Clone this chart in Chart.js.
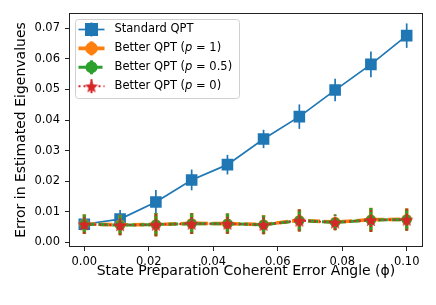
<!DOCTYPE html>
<html>
<head>
<meta charset="utf-8">
<script src="https://cdn.jsdelivr.net/npm/chart.js@4.4.1/dist/chart.umd.min.js"></script>
<style>
  html, body { margin: 0; padding: 0; background: #fff; }
  canvas { display: block; }
</style>
</head>
<body>
<canvas id="c" width="436" height="305"></canvas>
<script>
// données
const angles = [0, 0.0111, 0.0222, 0.0333, 0.0444, 0.0556, 0.0667, 0.0778, 0.0889, 0.1];
const standard = [0.0059, 0.0076, 0.0132, 0.0204, 0.0254, 0.0338, 0.0411, 0.0498, 0.0582, 0.0676];
const standardErr = [0.003, 0.003, 0.0039, 0.0034, 0.0032, 0.003, 0.004, 0.0037, 0.0042, 0.004];
const betterP1 = [0.0060, 0.0057, 0.0058, 0.0062, 0.0061, 0.0058, 0.0072, 0.0066, 0.0074, 0.0075];
const betterP05 = [0.0059, 0.0056, 0.0058, 0.0061, 0.0061, 0.0057, 0.0071, 0.0065, 0.0073, 0.0074];
const betterP0 = [0.0059, 0.0056, 0.0058, 0.0061, 0.0061, 0.0057, 0.0071, 0.0065, 0.0073, 0.0074];
const betterErr = [0.0032, 0.0033, 0.0038, 0.0034, 0.0033, 0.0031, 0.0036, 0.0026, 0.0039, 0.0036];
const xTicks = [0, 0.02, 0.04, 0.06, 0.08, 0.10];
const yTicks = [0, 0.01, 0.02, 0.03, 0.04, 0.05, 0.06, 0.07];

const FONT = "'DejaVu Sans', sans-serif";
const TICK_SIZE = 11.5;
const TITLE_SIZE = 14;

// étoile pleine façon matplotlib '*'
function makeStar(color, r) {
  const size = Math.ceil(r * 2 + 2);
  const cv = document.createElement('canvas');
  cv.width = size; cv.height = size;
  const c = cv.getContext('2d');
  c.fillStyle = color;
  c.beginPath();
  for (let i = 0; i < 10; i++) {
    const rad = i % 2 === 0 ? r : r * 0.45;
    const a = -Math.PI / 2 + i * Math.PI / 5;
    const px = size / 2 + rad * Math.cos(a), py = size / 2 + rad * Math.sin(a) + r * 0.1;
    if (i === 0) c.moveTo(px, py); else c.lineTo(px, py);
  }
  c.closePath();
  c.fill();
  return cv;
}
const redStar = makeStar('#d62728', 7);

function pts(ys) {
  return angles.map((a, i) => ({ x: a, y: ys[i] }));
}

// barres d'erreur dessinées avant chaque série
const errorBars = {
  id: 'errorBars',
  beforeDatasetDraw(chart, args) {
    const ds = chart.data.datasets[args.index];
    if (!ds.errors) return;
    const { ctx, chartArea, scales: { x, y } } = chart;
    ctx.save();
    ctx.beginPath();
    ctx.rect(chartArea.left, chartArea.top, chartArea.width, chartArea.height);
    ctx.clip();
    ctx.strokeStyle = ds.borderColor;
    ctx.lineWidth = ds.errWidth;
    ctx.setLineDash(ds.borderDash || []);
    ds.data.forEach((p, i) => {
      const px = x.getPixelForValue(p.x);
      ctx.beginPath();
      ctx.moveTo(px, y.getPixelForValue(p.y - ds.errors[i]));
      ctx.lineTo(px, y.getPixelForValue(p.y + ds.errors[i]));
      ctx.stroke();
    });
    ctx.restore();
  }
};

// cadre + légende façon matplotlib
const frameAndLegend = {
  id: 'frameAndLegend',
  afterDraw(chart) {
    const { ctx, chartArea: a } = chart;
    ctx.save();
    ctx.strokeStyle = '#222';
    ctx.lineWidth = 1;
    ctx.strokeRect(a.left + 0.5, a.top + 0.5, a.right - a.left - 1, a.bottom - a.top - 1);

    const bx = a.left + 6.5, by = a.top + 6.5, bw = 164, bh = 79;
    ctx.fillStyle = 'rgba(255,255,255,0.8)';
    ctx.strokeStyle = '#d0d0d0';
    ctx.beginPath();
    ctx.roundRect(bx, by, bw, bh, 3);
    ctx.fill();
    ctx.stroke();

    chart.data.datasets.forEach((ds, i) => {
      const ry = by + 10 + i * 18.9;
      const x0 = bx + 3, x1 = bx + 29, xm = bx + 16;
      ctx.save();
      ctx.strokeStyle = ds.borderColor;
      ctx.lineWidth = ds.borderWidth;
      ctx.setLineDash(ds.borderDash || []);
      ctx.beginPath();
      ctx.moveTo(x0, ry);
      ctx.lineTo(x1, ry);
      ctx.stroke();
      ctx.setLineDash([]);
      ctx.lineWidth = ds.errWidth;
      ctx.beginPath();
      ctx.moveTo(xm, ry - 7);
      ctx.lineTo(xm, ry + 7);
      ctx.stroke();
      ctx.fillStyle = ds.pointBackgroundColor;
      ctx.strokeStyle = ds.pointBorderColor;
      Chart.helpers.drawPoint(ctx, {
        pointStyle: ds.pointStyle, radius: ds.pointRadius + 1, rotation: 0, borderWidth: 1
      }, xm, ry);
      ctx.restore();

      // texte avec p en italique
      ctx.fillStyle = '#000';
      ctx.textBaseline = 'middle';
      let tx = bx + 39;
      ds.labelParts.forEach(part => {
        ctx.font = (part.it ? 'italic ' : '') + TICK_SIZE + 'px ' + FONT;
        ctx.fillText(part.t, tx, ry);
        tx += ctx.measureText(part.t).width;
      });
    });
    ctx.restore();
  }
};

new Chart(document.getElementById('c'), {
  type: 'line',
  data: {
    datasets: [
      {
        label: 'Standard QPT',
        labelParts: [{ t: 'Standard QPT' }],
        data: pts(standard),
        errors: standardErr,
        borderColor: '#1f77b4',
        borderWidth: 1.7,
        errWidth: 1.7,
        pointStyle: 'rect',
        pointRadius: 7,
        pointBackgroundColor: '#1f77b4',
        pointBorderColor: '#1f77b4',
        order: 4
      },
      {
        label: 'Better QPT (p = 1)',
        labelParts: [{ t: 'Better QPT (' }, { t: 'p', it: true }, { t: ' = 1)' }],
        data: pts(betterP1),
        errors: betterErr,
        borderColor: '#ff7f0e',
        borderWidth: 3.6,
        errWidth: 3.6,
        borderDash: [12, 4],
        pointStyle: 'circle',
        pointRadius: 3.5,
        pointBackgroundColor: '#ff7f0e',
        pointBorderColor: '#ff7f0e',
        order: 3
      },
      {
        label: 'Better QPT (p = 0.5)',
        labelParts: [{ t: 'Better QPT (' }, { t: 'p', it: true }, { t: ' = 0.5)' }],
        data: pts(betterP05),
        errors: betterErr,
        borderColor: '#2ca02c',
        borderWidth: 3,
        errWidth: 3,
        borderDash: [10, 4],
        pointStyle: 'circle',
        pointRadius: 3.5,
        pointBackgroundColor: '#2ca02c',
        pointBorderColor: '#2ca02c',
        order: 2
      },
      {
        label: 'Better QPT (p = 0)',
        labelParts: [{ t: 'Better QPT (' }, { t: 'p', it: true }, { t: ' = 0)' }],
        data: pts(betterP0),
        errors: betterErr,
        borderColor: '#d62728',
        borderWidth: 2,
        errWidth: 2,
        borderDash: [2, 3],
        pointStyle: redStar,
        pointRadius: 6,
        pointBackgroundColor: '#d62728',
        pointBorderColor: '#d62728',
        order: 1
      }
    ]
  },
  options: {
    responsive: false,
    devicePixelRatio: 1,
    animation: false,
    layout: { padding: { left: 13, top: 13, right: 13, bottom: 25 } },
    elements: { line: { tension: 0, fill: false } },
    plugins: {
      legend: { display: false },
      tooltip: { enabled: false }
    },
    scales: {
      x: {
        type: 'linear',
        min: -0.00475,
        max: 0.10506,
        afterBuildTicks: s => { s.ticks = xTicks.map(v => ({ value: v })); },
        afterFit: s => { s.height = 33; },
        ticks: {
          autoSkip: false, maxRotation: 0,
          callback: v => v.toFixed(2),
          font: { family: FONT, size: TICK_SIZE }, color: '#000', padding: 4
        },
        grid: { drawOnChartArea: false, drawTicks: true, tickLength: 4, color: '#222' },
        border: { display: false },
        title: {
          display: true,
          text: 'State Preparation Coherent Error Angle (\u03D5)',
          font: { family: FONT, size: TITLE_SIZE }, color: '#000',
          padding: { top: 0, bottom: 0 }
        }
      },
      y: {
        type: 'linear',
        min: -0.00154,
        max: 0.07501,
        afterBuildTicks: s => { s.ticks = yTicks.map(v => ({ value: v })); },
        afterFit: s => { s.width = 56; },
        ticks: {
          autoSkip: false,
          callback: v => v.toFixed(2),
          font: { family: FONT, size: TICK_SIZE }, color: '#000', padding: 5
        },
        grid: { drawOnChartArea: false, drawTicks: true, tickLength: 4, color: '#222' },
        border: { display: false },
        title: {
          display: true,
          text: 'Error in Estimated Eigenvalues',
          font: { family: FONT, size: TITLE_SIZE }, color: '#000',
          padding: { top: 0, bottom: 0 }
        }
      }
    }
  },
  plugins: [errorBars, frameAndLegend]
});
</script>
</body>
</html>
